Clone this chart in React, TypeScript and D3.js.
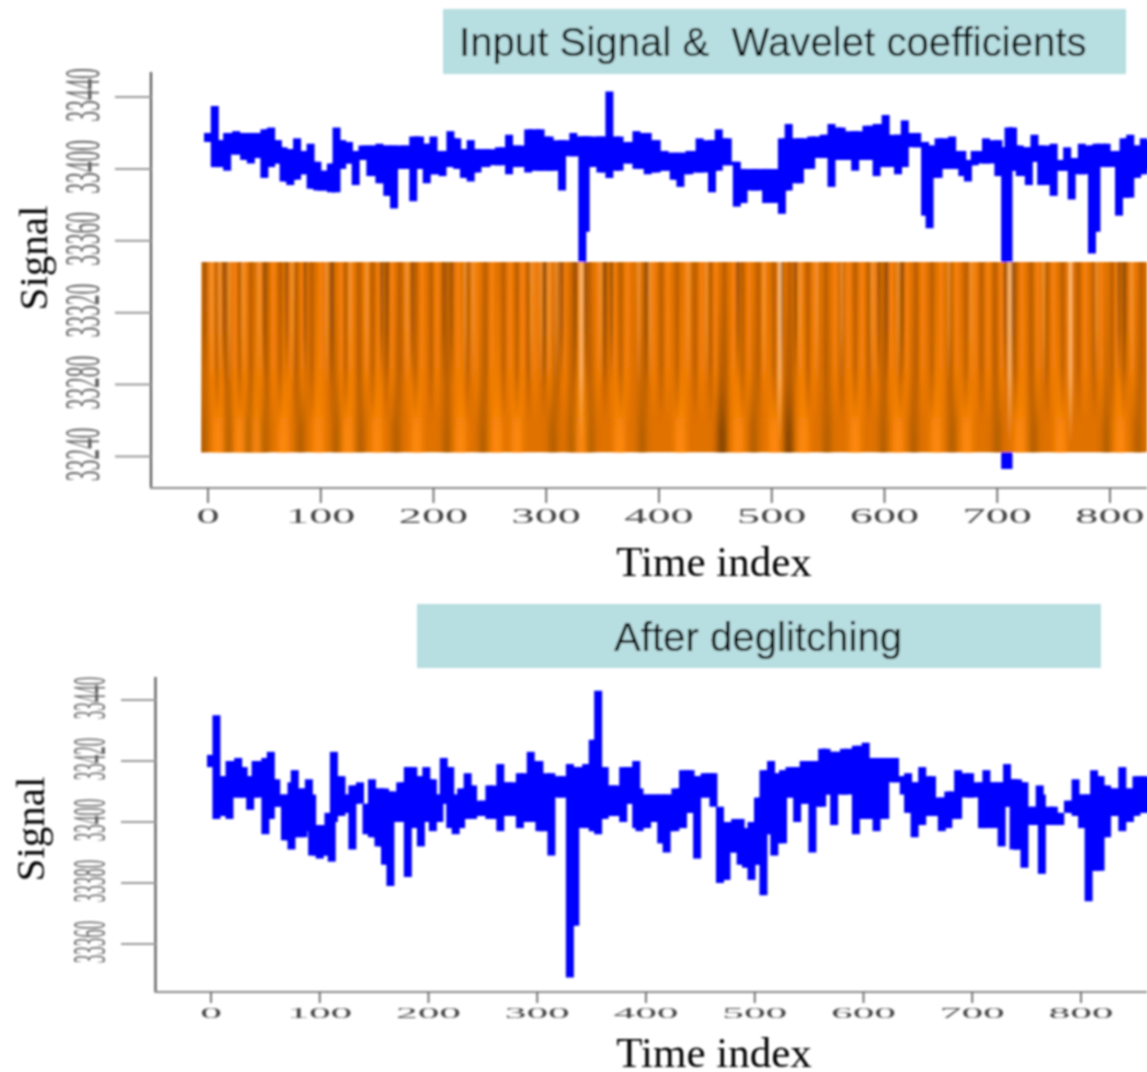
import React from 'react';
import * as d3 from 'd3';

// Top panel: raw signal, read as high/low envelope per time index
const rawTime = [0,6,11,17,25,32,38,44,50,56,62,67,73,79,85,91,97,103,109,114,119,125,131,137,144,152,159,165,174,182,188,194,200,208,215,221,227,233,239,247,258,267,274,284,295,303,314,324,332,335,337,348,356,365,374,380,
  390,398,405,413,419,427,436,447,453,461,469,475,485,495,509,515,525,535,546,553,562,574,584,593,601,612,618,629,636,640,648,660,669,674,680,690,701,707,710,714,720,728,733,739,750,756,762,766,775,784,788,797,808,812,818,824,830,836];
const rawHigh = [33420,33435,33416,33420,33421,33420,33420,33420,33422,33423,33416,33412,33411,33417,33410,33414,33404,33399,33403,33423,33416,33415,33410,33413,33413,33414,33413,33413,33413,33418,33418,33414,33418,33410,33421,33417,33411,33416,33411,33411,33412,33419,33413,33422,33422,33418,33416,33420,33418,33418,33418,33418,33443,33418,33415,33421,
  33420,33416,33410,33409,33409,33410,33417,33416,33422,33417,33404,33400,33400,33400,33417,33425,33417,33418,33419,33425,33423,33421,33424,33425,33430,33419,33427,33420,33415,33413,33417,33418,33410,33405,33410,33417,33416,33412,33423,33423,33413,33412,33419,33413,33414,33405,33412,33406,33414,33413,33414,33414,33410,33417,33419,33413,33417,33415];
const rawLow = [33415,33401,33401,33399,33408,33405,33403,33406,33395,33401,33403,33393,33391,33394,33397,33389,33388,33388,33387,33387,33400,33403,33391,33405,33396,33392,33385,33378,33400,33382,33400,33392,33397,33396,33401,33400,33395,33393,33398,33401,33402,33397,33401,33398,33399,33399,33388,33407,33347,33365,33401,33398,33395,33399,33403,33400,
  33397,33398,33399,33394,33390,33397,33398,33387,33399,33402,33379,33381,33388,33381,33375,33388,33392,33400,33406,33390,33405,33399,33405,33396,33401,33397,33401,33412,33374,33367,33395,33400,33396,33393,33402,33403,33396,33233,33233,33399,33396,33391,33404,33391,33385,33399,33399,33383,33397,33353,33365,33401,33374,33384,33384,33395,33397,33400];

// Bottom panel: signal after deglitching
const cleanTime = [0,5,11,17,25,30,36,41,50,55,60,68,74,77,85,90,93,100,108,111,113,120,126,130,137,143,148,154,160,165,174,181,186,193,198,204,210,214,220,225,230,236,241,250,256,266,273,284,294,302,313,322,330,335,345,351,356,362,370,379,385,391,
  394,401,408,414,419,427,434,441,447,454,462,468,474,482,487,492,497,503,508,515,518,526,532,539,545,553,562,566,573,582,593,602,612,620,629,637,641,647,654,663,672,678,687,698,709,713,720,727,732,738,742,748,755,762,764,775,781,788,795,801,807,812,818,824,831,838,845,851,859];
const cleanHigh = [33422,33435,33415,33420,33421,33418,33415,33420,33421,33423,33414,33409,33413,33417,33411,33414,33409,33399,33403,33400,33423,33415,33409,33412,33413,33406,33414,33411,33411,33410,33413,33418,33418,33415,33418,33414,33409,33421,33418,33409,33411,33416,33412,33407,33412,33419,33413,33416,33423,33420,33416,33415,33419,33418,33419,33427,33443,33418,33412,33418,33418,33420,
  33411,33409,33409,33409,33409,33411,33417,33417,33415,33416,33416,33405,33400,33401,33401,33398,33400,33408,33417,33420,33416,33417,33418,33418,33420,33420,33424,33424,33423,33424,33425,33426,33421,33421,33421,33415,33416,33413,33418,33415,33408,33410,33417,33416,33413,33417,33413,33413,33419,33414,33414,33413,33405,33412,33409,33405,33403,33407,33414,33409,33409,33417,33415,33412,33411,33418,33411,33415,33415];
const cleanLow = [33418,33401,33402,33401,33408,33408,33404,33408,33396,33401,33405,33394,33391,33395,33395,33397,33389,33388,33389,33387,33400,33402,33403,33391,33406,33396,33395,33392,33386,33379,33400,33382,33398,33392,33400,33397,33400,33406,33398,33396,33398,33401,33401,33402,33401,33397,33402,33398,33400,33397,33389,33408,33349,33366,33398,33397,33396,33401,33402,33400,33406,33398,
  33397,33398,33400,33393,33390,33397,33398,33403,33388,33408,33405,33380,33381,33390,33386,33385,33381,33386,33376,33396,33389,33393,33408,33400,33406,33390,33405,33409,33399,33409,33396,33401,33397,33401,33413,33409,33403,33395,33399,33402,33397,33398,33401,33408,33398,33398,33398,33392,33405,33391,33391,33385,33399,33399,33383,33399,33399,33403,33402,33398,33374,33384,33384,33395,33402,33397,33400,33402,33403];

// Wavelet coefficient stripes, as time indexes
const fineLight = [3,10,19,31,45,75,105,126,141,176,228,235,287,295,302,309,348,382,392,426,442,493,525,540,562,589,612,657,677,741,788,819];
const fineDark = [-3,14,50,70,86,110,154,159,181,209,216,299,314,326,335,352,358,389,470,509,521,595,602,616,707,714,808,813];
const fineStrongLight = [331,507,711,765];
const midBright = [4,12,24,33,47,58,72,84,100,118,127,140,152,163,178,190,203,222,238,252,268,279,290,303,316,331,346,360,372,395,408,424,438,450,466,480,494,508,526,538,556,568,580,592,606,620,634,650,664,680,692,704,722,736,750,764,778,792,806,820];
const midDark = [8,16,28,38,52,64,78,92,110,122,134,146,158,170,184,198,212,230,246,262,274,284,298,310,324,338,352,366,388,402,416,432,446,458,474,488,502,516,532,548,562,574,586,600,614,628,642,658,672,686,698,716,730,744,758,772,786,802,812,828];
const coarseBright = [9,28,43,67,98,124,150,185,224,256,274,331,365,419,470,502,528,574,612,646,673,720,756,809];
const coarseDark = [-4,18,36,50,82,114,135,167,212,244,306,323,339,385,484,549,599,626,660,700,732,797,825];
const coarseStrongDark = [456,515];

const xTicks = [0, 100, 200, 300, 400, 500, 600, 700, 800];
const rawYTicks = [33240, 33280, 33320, 33360, 33400, 33440];
const cleanYTicks = [33360, 33380, 33400, 33420, 33440];

const rawTitle = 'Input Signal &\u00a0\u00a0Wavelet coefficients';
const cleanTitle = 'After deglitching';

const W = 1147;
const H = 1072;
const SERIF = '"Liberation Serif", serif';
const SANS = '"Liberation Sans", Arial, sans-serif';

const xRaw = d3.scaleLinear().domain([0, 800]).range([208, 1110]);
const yRaw = d3.scaleLinear().domain([33240, 33440]).range([456.5, 97]);
const xClean = d3.scaleLinear().domain([0, 800]).range([211, 1081]);
const yClean = d3.scaleLinear().domain([33360, 33440]).range([944, 700]);

type PanelProps = {
  x: d3.ScaleLinear<number, number>;
  y: d3.ScaleLinear<number, number>;
  yTicks: number[];
  time: number[];
  high: number[];
  low: number[];
  axisX: number;
  axisTop: number;
  axisBottom: number;
  title: string;
  box: [number, number, number, number];
  titleY: number;
  titleX: number;
  titleAnchor: string;
  xLabel: { size: number; stretch: number; y: number; tick: number };
  yLabel: { size: number; stretch: number; x: number; tickX: number };
  signalX: number;
  signalY: number;
  timeX: number;
  timeY: number;
  children?: React.ReactNode;
};

const Panel = (p: PanelProps) => {
  // solid core: what two neighbouring samples share, so the band has no holes
  const core = d3.area<number>()
    .curve(d3.curveStepAfter)
    .x(t => p.x(t))
    .y1((_, i) => p.y(Math.min(p.high[i], p.high[i + 1] ?? p.high[i])))
    .y0((_, i) => p.y(Math.max(p.low[i], p.low[i + 1] ?? p.low[i])));
  const [bx, by, bw, bh] = p.box;
  return (
    <g>
      <rect x={bx} y={by} width={bw} height={bh} fill="#b7dee1" />
      <text x={p.titleX} y={p.titleY} textAnchor={p.titleAnchor} fontFamily={SANS} fontSize={40.2} fill="#000">{p.title}</text>

      <path d={core(p.time) || ''} fill="#0000ff" />
      {p.time.map((t, i) => (
        <line key={t} x1={p.x(t)} x2={p.x(t)} y1={p.y(p.high[i])} y2={p.y(p.low[i])} stroke="#0000ff" strokeWidth={8} />
      ))}
      {p.children}

      {/* y axis */}
      <line x1={p.axisX} x2={p.axisX} y1={p.axisTop} y2={p.axisBottom} stroke="#555" strokeWidth={2.2} />
      {p.yTicks.map(t => (
        <g key={t}>
          <line x1={p.yLabel.tickX} x2={p.axisX} y1={p.y(t)} y2={p.y(t)} stroke="#999" strokeWidth={2} />
          <text
            transform={`translate(${p.yLabel.x},${p.y(t) - 2}) rotate(-90) scale(${p.yLabel.stretch},1)`}
            textAnchor="middle"
            fontFamily={SERIF}
            fontSize={p.yLabel.size}
            fill="#666"
          >{t}</text>
        </g>
      ))}

      {/* x axis */}
      <line x1={p.axisX - 1} x2={W} y1={p.axisBottom} y2={p.axisBottom} stroke="#8a8a8a" strokeWidth={2.2} />
      {xTicks.map(t => (
        <g key={t}>
          <line x1={p.x(t)} x2={p.x(t)} y1={p.axisBottom} y2={p.xLabel.tick} stroke="#666" strokeWidth={1.8} />
          <text
            transform={`translate(${p.x(t)},${p.xLabel.y}) scale(${p.xLabel.stretch},1)`}
            textAnchor="middle"
            fontFamily={SERIF}
            fontSize={p.xLabel.size}
            fill="#444"
          >{t}</text>
        </g>
      ))}

      <text x={p.timeX} y={p.timeY} textAnchor="middle" fontFamily={SERIF} fontSize={43} fill="#000">Time index</text>
      <text
        transform={`translate(${p.signalX},${p.signalY}) rotate(-90)`}
        textAnchor="middle"
        fontFamily={SERIF}
        fontSize={41}
        fill="#000"
      >Signal</text>
    </g>
  );
};

const Scalogram = () => {
  const left = xRaw(-6);
  const top = 262;
  const bottom = 452.5;
  const h = bottom - top;
  const stripes = (times: number[], color: string, w: number, fade: string) =>
    times.map(t => (
      <rect key={`${color}${t}`} x={xRaw(t) - w / 2} y={top} width={w} height={h} fill={color} mask={fade} />
    ));
  return (
    <g clipPath="url(#heatClip)">
      <rect x={left} y={top} width={W - left} height={h} fill="#e07206" />
      <g filter="url(#blurWide)">
        {stripes(coarseBright, '#ff8a08', 11, 'url(#fadeUp)')}
        {stripes(coarseDark, '#a85a04', 7, 'url(#fadeUp)')}
        {stripes(coarseStrongDark, '#7a4003', 9, 'url(#fadeUp)')}
      </g>
      <g filter="url(#blurMid)">
        {stripes(midBright, '#f58008', 5, 'url(#fadeMid)')}
        {stripes(midDark, '#b55b05', 4, 'url(#fadeMid)')}
      </g>
      <g filter="url(#blurThin)">
        {stripes(fineLight, '#f09a3c', 2.5, 'url(#fadeDown)')}
        {stripes(fineDark, '#84470a', 2.4, 'url(#fadeDown)')}
        {stripes(fineStrongLight, '#fbc98e', 3, 'url(#fadeDeep)')}
      </g>
    </g>
  );
};

// vertical fade of a stripe layer over the height of the scalogram
const Fade = ({ id, stops }: { id: string; stops: [number, number][] }) => (
  <>
    <linearGradient id={`${id}Stops`} gradientUnits="userSpaceOnUse" x1="0" x2="0" y1="262" y2="452">
      {stops.map(([o, a]) => <stop key={o} offset={o} stopColor="#fff" stopOpacity={a} />)}
    </linearGradient>
    <mask id={id} maskUnits="userSpaceOnUse" x="0" y="0" width={W} height={H}>
      <rect x="0" y="262" width={W} height="191" fill={`url(#${id}Stops)`} />
    </mask>
  </>
);

const App = () => (
  <svg
    width={W}
    height={H}
    viewBox={`0 0 ${W} ${H}`}
    style={{ position: 'absolute', left: 0, top: 0, display: 'block', background: '#fff' }}
  >
    <defs>
      <Fade id="fadeDown" stops={[[0, 1], [0.35, 0.75], [0.65, 0]]} />
      <Fade id="fadeDeep" stops={[[0, 1], [0.6, 0.8], [0.95, 0]]} />
      <Fade id="fadeMid" stops={[[0, 1], [0.55, 0.85], [0.85, 0]]} />
      <Fade id="fadeUp" stops={[[0.1, 0], [0.6, 0.45], [0.9, 0.95], [1, 1]]} />
      <clipPath id="heatClip">
        <rect x={xRaw(-6)} y={262} width={W} height={190.5} />
      </clipPath>
      <filter id="blurWide" filterUnits="userSpaceOnUse" x="150" y="240" width={W} height="240">
        <feGaussianBlur stdDeviation="3 0" />
      </filter>
      <filter id="blurMid" filterUnits="userSpaceOnUse" x="150" y="240" width={W} height="240">
        <feGaussianBlur stdDeviation="1.5 0" />
      </filter>
      <filter id="blurThin" filterUnits="userSpaceOnUse" x="150" y="240" width={W} height="240">
        <feGaussianBlur stdDeviation="0.8 0" />
      </filter>
      <filter id="soft" filterUnits="userSpaceOnUse" x="0" y="0" width={W} height={H}>
        <feGaussianBlur stdDeviation="0.8" />
      </filter>
    </defs>
    <g filter="url(#soft)">
      <Panel
        x={xRaw}
        y={yRaw}
        yTicks={rawYTicks}
        time={rawTime}
        high={rawHigh}
        low={rawLow}
        axisX={151}
        axisTop={72}
        axisBottom={488}
        title={rawTitle}
        box={[443, 9, 683, 65]}
        titleX={459}
        titleY={56}
        titleAnchor="start"
        xLabel={{ size: 21, stretch: 2.2, y: 523, tick: 503 }}
        yLabel={{ size: 50, stretch: 0.43, x: 99, tickX: 115 }}
        signalX={47}
        signalY={258}
        timeX={714}
        timeY={576}
      >
        <Scalogram />
      </Panel>
      <Panel
        x={xClean}
        y={yClean}
        yTicks={cleanYTicks}
        time={cleanTime}
        high={cleanHigh}
        low={cleanLow}
        axisX={155.5}
        axisTop={677}
        axisBottom={992}
        title={cleanTitle}
        box={[417, 604, 684, 64]}
        titleX={758}
        titleY={651}
        titleAnchor="middle"
        xLabel={{ size: 15, stretch: 2.9, y: 1018, tick: 1003 }}
        yLabel={{ size: 46, stretch: 0.37, x: 105, tickX: 121 }}
        signalX={44}
        signalY={829}
        timeX={714}
        timeY={1067}
      />
    </g>
  </svg>
);

export default App;
